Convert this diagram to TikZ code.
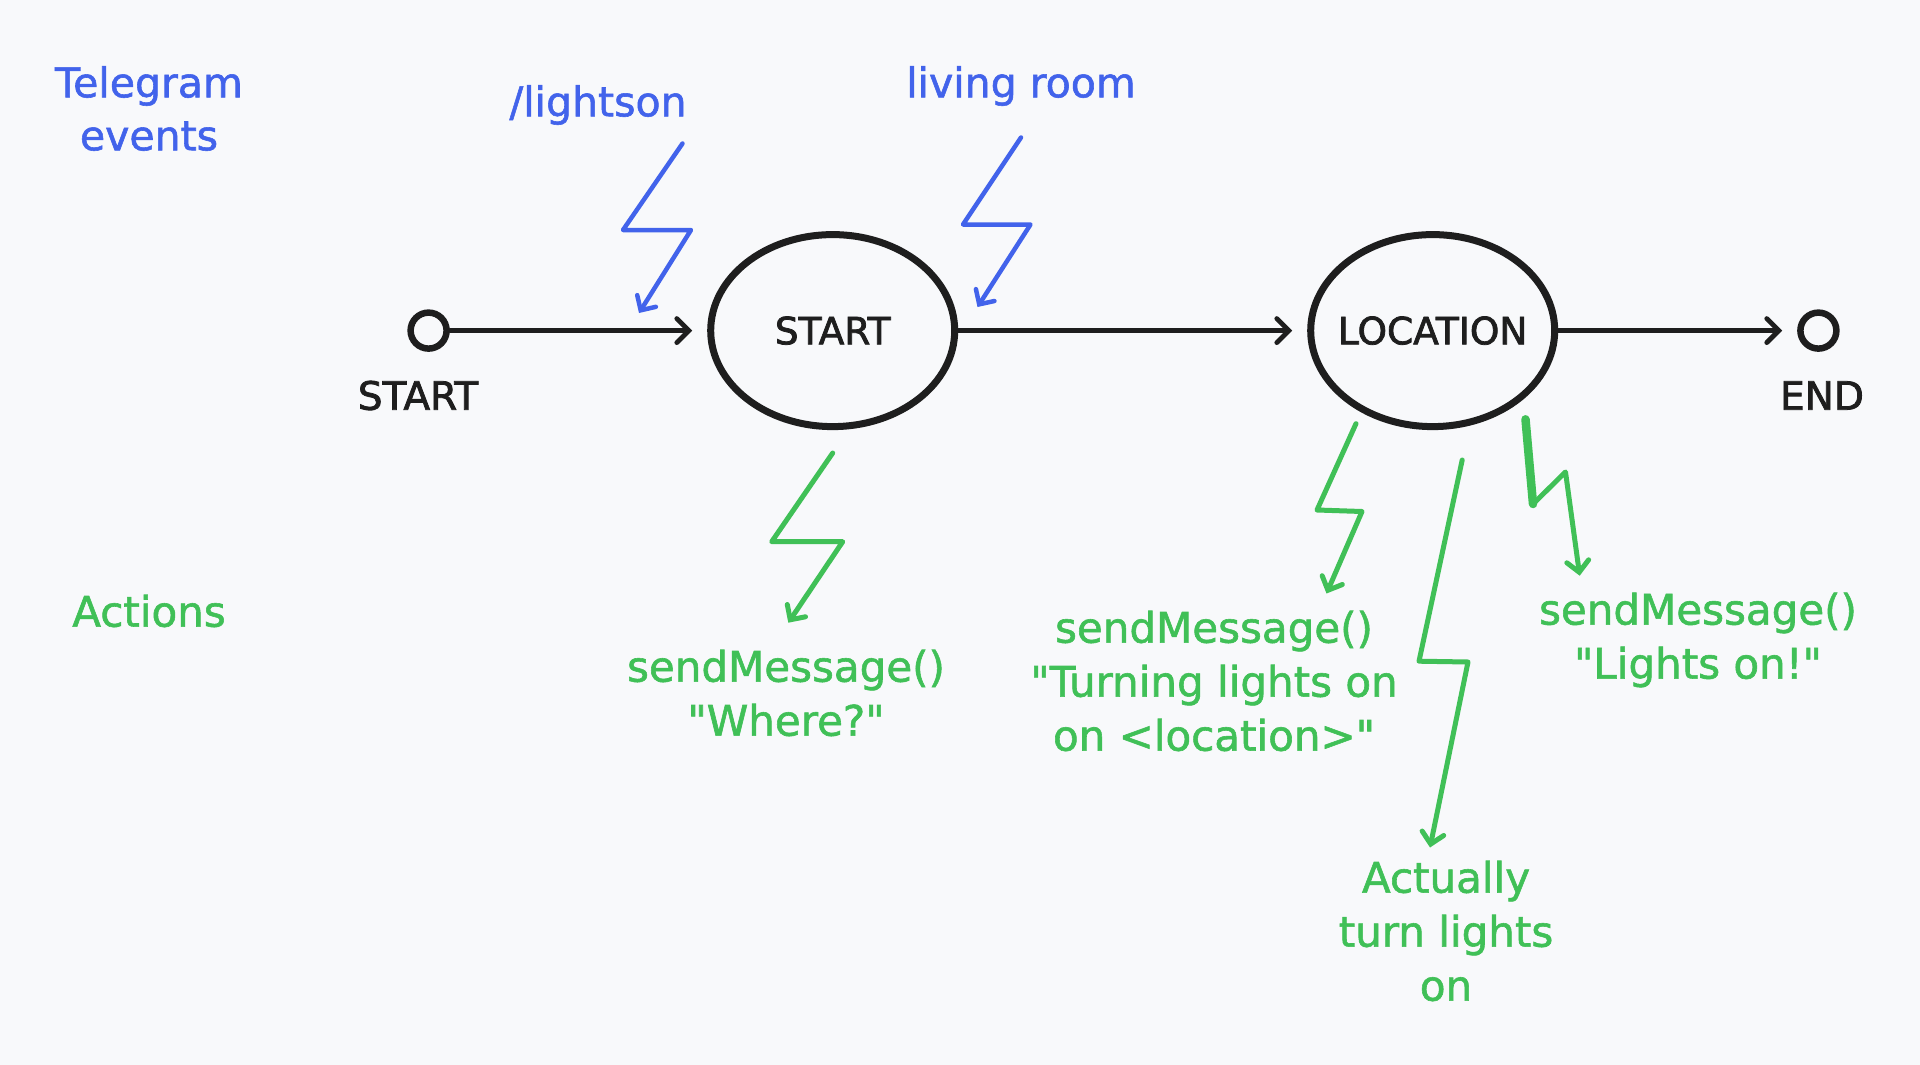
\documentclass[tikz,border=0pt]{standalone}
\usepackage{fontspec}
\setmainfont{DejaVu Sans}[Ligatures=TeXOff, FakeBold=1.4]
\newfontfamily\inkfont{DejaVu Sans}[Ligatures=TeXOff, FakeBold=2]
\usetikzlibrary{arrows.meta,shapes.geometric}
\definecolor{bgc}{HTML}{F8F9FB}
\definecolor{evblue}{HTML}{4263EB}
\definecolor{acgreen}{HTML}{40C057}
\definecolor{ink}{HTML}{1E1E1E}
\begin{document}
\begin{tikzpicture}[x=1pt,y=-1pt,
  state/.style={ellipse, draw=ink, line width=7pt, minimum width=244pt, minimum height=192pt, inner xsep=-30pt, inner ysep=0pt, text=ink, font=\inkfont\fontsize{37.5}{44}\selectfont},
  term/.style={circle, draw=ink, line width=6.5pt, minimum size=36pt, inner sep=0pt},
  blk/.style={text=ink, font=\inkfont\fontsize{39}{46}\selectfont},
  flow/.style={draw=ink, line width=4.8pt, line cap=round, shorten >=15pt, -{Straight Barb[length=12pt,width=24pt,line cap=round]}},
  evt/.style={draw=evblue, line width=4.5pt, line cap=round, line join=round, -{Straight Barb[length=11pt,width=22pt,line cap=round]}},
  act/.style={draw=acgreen, line width=5pt, line cap=round, line join=round, -{Straight Barb[length=11pt,width=22pt,line cap=round]}},
  evtext/.style={text=evblue, font=\fontsize{41}{53}\selectfont, align=center},
  actext/.style={text=acgreen, font=\fontsize{42}{54}\selectfont, align=center}
]
\fill[bgc] (0,0) rectangle (1920,1065);
\useasboundingbox (0,0) rectangle (1920,1065);

% states
\node[term] (s0) at (428.6,330.6) {};
\node[blk] (s0l) at (418,395.5) {START};
\node[state] (st) at (832.7,330.6) {START};
\node[state] (loc) at (1432.7,330.6) {LOCATION};
\node[term] (en) at (1818.4,330.6) {};
\node[blk] (enl) at (1822,395.5) {END};

\draw[flow] (s0) -- (st);
\draw[flow] (st) -- (loc);
\draw[flow] (loc) -- (en);

% labels
\node[evtext] (tg) at (149,108.5) {Telegram\\events};
\node[evtext] (ls) at (598,105) {/lightson};
\node[evtext] (lr) at (1021,86) {living room};
\node[actext] (ac) at (149,611) {Actions};
\node[actext] (a1) at (786,693) {sendMessage()\\"Where?"};
\node[actext] (a2) at (1214,681) {sendMessage()\\"Turning lights on\\on <location>"};
\node[actext] (a3) at (1446,931) {Actually\\turn lights\\on};
\node[actext] (a4) at (1698,640) {sendMessage()\\"Lights on!"};

% event bolts
\coordinate (b1s) at (682.5,143.5);
\coordinate (b1a) at (623,230);
\coordinate (b1b) at (691,230);
\coordinate (b1e) at (639,313);
\draw[evt] (b1s) -- (b1a) -- (b1b) -- (b1e);

\coordinate (b2s) at (1021,137.5);
\coordinate (b2a) at (963,224.5);
\coordinate (b2b) at (1030.5,224.5);
\coordinate (b2e) at (977.5,307);
\draw[evt] (b2s) -- (b2a) -- (b2b) -- (b2e);

% action bolts
\coordinate (g1s) at (832.7,453);
\coordinate (g1a) at (771.7,541.7);
\coordinate (g1b) at (842.7,541.7);
\coordinate (g1e) at (788.3,622.7);
\draw[act] (g1s) -- (g1a) -- (g1b) -- (g1e);

\coordinate (g2s) at (1356,423.6);
\coordinate (g2a) at (1317,510);
\coordinate (g2b) at (1362,511.5);
\coordinate (g2e) at (1326.5,593.5);
\draw[act] (g2s) -- (g2a) -- (g2b) -- (g2e);

\coordinate (g3s) at (1462.2,460);
\coordinate (g3a) at (1419,661.2);
\coordinate (g3b) at (1468,662);
\coordinate (g3e) at (1430,847.5);
\draw[act] (g3s) -- (g3a) -- (g3b) -- (g3e);

\coordinate (g4s) at (1525.5,419.3);
\coordinate (g4a) at (1533,504);
\coordinate (g4b) at (1565.5,472);
\coordinate (g4e) at (1579.7,575.7);
\draw[acgreen, line width=8.5pt, line cap=round] (g4s) -- (g4a);
\draw[act] (g4s) -- (g4a) -- (g4b) -- (g4e);
\end{tikzpicture}
\end{document}
